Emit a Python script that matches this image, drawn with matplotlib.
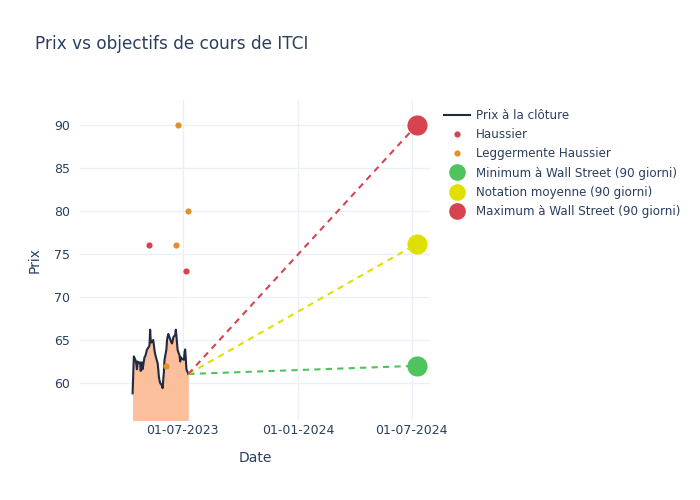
import matplotlib
matplotlib.use("Agg")
import matplotlib.pyplot as plt
import matplotlib.dates as mdates
from matplotlib.lines import Line2D
import pandas as pd

plt.rcParams['font.family'] = ['DejaVu Sans']

# ---- data ----
price_start = "2023-04-12"
close_prices = [58.8, 61.0, 63.1, 62.6, 62.2, 61.6, 62.5, 62.3, 62.4, 61.4,
                62.3, 62.4, 61.6, 63.0, 63.1, 63.3, 63.6, 63.9, 64.2, 64.4,
                66.2, 64.9, 64.7, 65.0, 64.4, 63.8, 63.4, 63.1, 62.3, 61.6,
                60.7, 60.3, 60.0, 59.7, 59.4, 60.4, 61.3, 62.7, 63.9, 65.0,
                65.4, 65.7, 65.5, 64.9, 64.7, 64.6, 64.9, 65.3, 65.6, 66.2,
                65.5, 64.6, 63.8, 63.2, 62.5, 63.0, 62.9, 62.8, 62.7, 63.6,
                63.9, 62.8, 61.6, 61.05]
price_dates = pd.bdate_range(price_start, periods=len(close_prices))

haussier_dates = pd.to_datetime(["2023-05-08", "2023-07-06"])
haussier_targets = [76, 73]

legg_dates = pd.to_datetime(["2023-06-04", "2023-06-21", "2023-06-23", "2023-07-10"])
legg_targets = [62, 76, 90, 80]

target_date = pd.Timestamp("2024-07-09")
target_min = 62.0
target_avg = 76.17
target_max = 90.0

x_ticks = pd.to_datetime(["2023-07-01", "2024-01-01", "2024-07-01"])
y_ticks = [60, 65, 70, 75, 80, 85, 90]

# ---- style ----
TXT = "#2a3f5f"
GRID = "#ebf0f8"
C_LINE = "#1f2a44"
C_FILL = "#fbbf9b"
C_RED = "#d6444f"
C_ORANGE = "#e0912a"
C_GREEN = "#4fc35c"
C_YELLOW = "#e0e000"

fig = plt.figure(figsize=(7, 5), dpi=100)
ax = fig.add_axes([80/700, 1-420/500, 350/700, 320/500])

ymin, ymax = 55.7, 92.9
ax.fill_between(price_dates, close_prices, ymin - 5, color=C_FILL, lw=0, zorder=2)
ax.plot(price_dates, close_prices, color=C_LINE, lw=1.5, zorder=3)

last_date = price_dates[-1]
last_price = close_prices[-1]
dash = (0, (3, 2.5))
for val, col in [(target_min, C_GREEN), (target_avg, C_YELLOW), (target_max, C_RED)]:
    ax.plot([last_date, target_date], [last_price, val], color=col, lw=1.5,
            linestyle=dash, zorder=3)

ax.scatter(haussier_dates, haussier_targets, s=20, color=C_RED, zorder=5, lw=0)
ax.scatter(legg_dates, legg_targets, s=20, color=C_ORANGE, zorder=5, lw=0)
ax.scatter([target_date], [target_min], s=210, color=C_GREEN, zorder=6, lw=0)
ax.scatter([target_date], [target_avg], s=210, color=C_YELLOW, zorder=6, lw=0)
ax.scatter([target_date], [target_max], s=210, color=C_RED, zorder=6, lw=0)

ax.set_xlim(pd.Timestamp("2023-01-18"), pd.Timestamp("2024-07-30"))
ax.set_ylim(ymin, ymax)
ax.set_xticks(x_ticks)
ax.xaxis.set_major_formatter(mdates.DateFormatter("%d-%m-%Y"))
ax.set_yticks(y_ticks)
ax.grid(True, color=GRID, lw=1, zorder=0)
ax.set_axisbelow(True)
for s in ax.spines.values():
    s.set_visible(False)
ax.tick_params(length=0, labelsize=9, colors=TXT)
ax.tick_params(axis='x', pad=3)
ax.tick_params(axis='y', pad=7)
ax.set_xlabel("Date", fontsize=10, color=TXT, labelpad=10)
ax.set_ylabel("Prix", fontsize=10, color=TXT, labelpad=9)

fig.text(35/700, 1-44/500, "Prix vs objectifs de cours de ITCI", fontsize=12.2,
         color=TXT, va="center", ha="left")

handles = [
    Line2D([], [], color=C_LINE, lw=1.5),
    Line2D([], [], color=C_RED, marker='o', ls='', markersize=4.5, markeredgewidth=0),
    Line2D([], [], color=C_ORANGE, marker='o', ls='', markersize=4.5, markeredgewidth=0),
    Line2D([], [], color=C_GREEN, marker='o', ls='', markersize=12, markeredgewidth=0),
    Line2D([], [], color=C_YELLOW, marker='o', ls='', markersize=12, markeredgewidth=0),
    Line2D([], [], color=C_RED, marker='o', ls='', markersize=12, markeredgewidth=0),
]
labels = ["Prix à la clôture", "Haussier", "Leggermente Haussier",
          "Minimum à Wall Street (90 giorni)", "Notation moyenne (90 giorni)",
          "Maximum à Wall Street (90 giorni)"]
leg = fig.legend(handles, labels, loc="upper left", bbox_to_anchor=(444/700, 1-109/500),
                 frameon=False, fontsize=8.6, labelcolor=TXT, handlelength=2.2,
                 handletextpad=0.45, labelspacing=0.52, borderaxespad=0, borderpad=0)

fig.savefig("out.png", dpi=100, facecolor="white")
